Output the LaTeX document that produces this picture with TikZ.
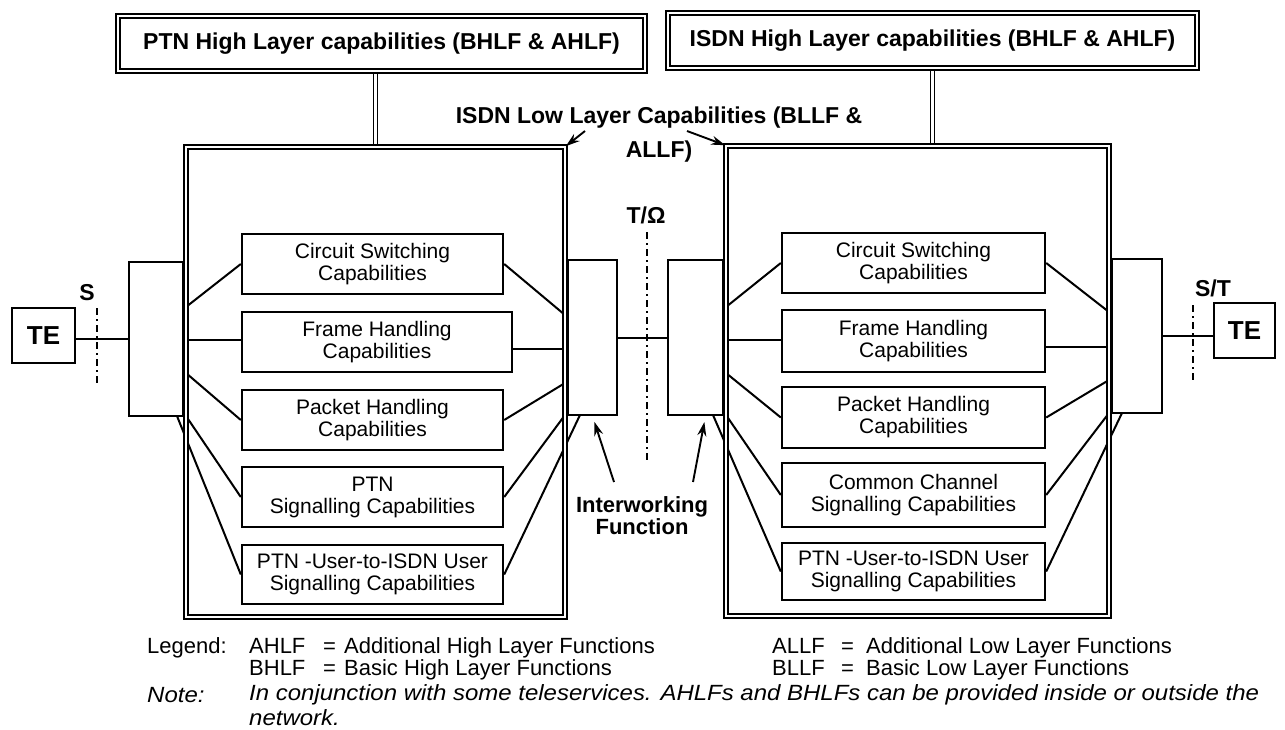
\documentclass[tikz,border=0pt]{standalone}
\usepackage{fontspec}
\setmainfont{Liberation Sans}
\newfontfamily\notefont[FakeStretch=1.09]{Liberation Sans}
\usetikzlibrary{arrows.meta}
\pgfdeclarelayer{bg}
\pgfsetlayers{bg,main}
\begin{document}
\begin{tikzpicture}[x=1pt,y=-1pt,
  box/.style={draw,line width=2.4pt,inner sep=0pt,align=center,font=\fontsize{21}{22}\selectfont},
  ifbox/.style={draw,line width=2.2pt,inner sep=0pt},
  tebox/.style={draw,line width=2.2pt,inner sep=0pt,font=\fontsize{26}{28}\selectfont\bfseries},
  dbl/.style={draw,double,double distance=2.6pt,line width=1.6pt},
  conn/.style={line width=2pt},
  lbl/.style={font=\fontsize{23}{26}\selectfont\bfseries,inner sep=0pt},
  dashdot/.style={line width=2.2pt,dash pattern=on 7pt off 4pt on 2pt off 4pt},
  arr/.style={line width=1.9pt,-{Stealth[length=14pt,width=9pt]}},
  leg/.style={anchor=west,inner sep=0pt,font=\fontsize{22}{24}\selectfont},
  note/.style={anchor=west,inner sep=0pt,font=\fontsize{22}{24}\notefont\itshape}]
\useasboundingbox (0,0) rectangle (1285,729);

% top boxes
\node[dbl,lbl,minimum width=527pt,minimum height=55pt] (tb1) at (381.5,43.5) {PTN High Layer capabilities (BHLF \& AHLF)};
\node[dbl,lbl,minimum width=529pt,minimum height=55pt] (tb2) at (932.5,40.5) {ISDN High Layer capabilities (BHLF \& AHLF)};

% big boxes
\node[dbl,inner sep=0pt,minimum width=379pt,minimum height=470pt] (bb1) at (375.5,382) {};
\node[dbl,inner sep=0pt,minimum width=383pt,minimum height=470pt] (bb2) at (917.5,381) {};

\begin{pgfonlayer}{bg}
\draw[dbl] (tb1.south -| bb1.north) -- (bb1.north);
\draw[dbl] (tb2.south) -- (tb2.south |- bb2.north);
\end{pgfonlayer}

% TE boxes
\node[tebox,minimum width=63pt,minimum height=55pt] (te1) at (43.5,335.5) {TE};
\node[tebox,minimum width=61pt,minimum height=55pt] (te2) at (1244.5,330.5) {TE};

% interface boxes
\node[ifbox,minimum width=54pt,minimum height=154pt] (if1) at (156,339) {};
\node[ifbox,minimum width=49pt,minimum height=155pt] (if2) at (592.5,337.5) {};
\node[ifbox,minimum width=55pt,minimum height=155pt] (if3) at (695.5,337.5) {};
\node[ifbox,minimum width=50pt,minimum height=154pt] (if4) at (1137,336) {};

% inner boxes left
\node[box,minimum width=261pt,minimum height=60pt] (cs1) at (372.5,264) {Circuit Switching\\Capabilities};
\node[box,minimum width=270pt,minimum height=60pt] (fh1) at (377,342) {Frame Handling\\Capabilities};
\node[box,minimum width=261pt,minimum height=60pt] (ph1) at (372.5,420) {Packet Handling\\Capabilities};
\node[box,minimum width=261pt,minimum height=60pt] (ps1) at (372.5,497) {PTN\\Signalling Capabilities};
\node[box,minimum width=261pt,minimum height=59pt] (pu1) at (372.5,574.5) {PTN -User-to-ISDN User\\Signalling Capabilities};

% inner boxes right
\node[box,minimum width=263pt,minimum height=60pt] (cs2) at (913.5,263) {Circuit Switching\\Capabilities};
\node[box,minimum width=263pt,minimum height=62pt] (fh2) at (913.5,341) {Frame Handling\\Capabilities};
\node[box,minimum width=263pt,minimum height=61pt] (ph2) at (913.5,417.5) {Packet Handling\\Capabilities};
\node[box,minimum width=263pt,minimum height=64pt] (cc2) at (913.5,495) {Common Channel\\Signalling Capabilities};
\node[box,minimum width=263pt,minimum height=57pt] (pu2) at (913.5,571.5) {PTN -User-to-ISDN User\\Signalling Capabilities};

% connection points on big box borders
\coordinate (L1) at (186,307); \coordinate (L2) at (186,340); \coordinate (L3) at (186,373);
\coordinate (L4) at (186,416); \coordinate (L5) at (177,416);
\coordinate (R1) at (565,315); \coordinate (R2) at (565,349); \coordinate (R3) at (565,383);
\coordinate (R4) at (565,415); \coordinate (R5) at (580,415);
\coordinate (M1) at (726,307); \coordinate (M2) at (726,340); \coordinate (M3) at (726,373);
\coordinate (M4) at (726,415); \coordinate (M5) at (713,415);
\coordinate (N1) at (1109,312); \coordinate (N2) at (1109,347); \coordinate (N3) at (1109,380);
\coordinate (N4) at (1109,413); \coordinate (N5) at (1122,413);

\begin{pgfonlayer}{bg}
\draw[conn] (L1) -- (cs1.west);
\draw[conn] (L2) -- (L2 -| fh1.west);
\draw[conn] (L3) -- (ph1.west);
\draw[conn] (L4) -- (ps1.west);
\draw[conn] (L5) -- (pu1.west);
\draw[conn] (cs1.east) -- (R1);
\draw[conn] (fh1.east |- R2) -- (R2);
\draw[conn] (ph1.east) -- (R3);
\draw[conn] (ps1.east) -- (R4);
\draw[conn] (pu1.east) -- (R5);
\draw[conn] (M1) -- (cs2.west);
\draw[conn] (M2) -- (M2 -| fh2.west);
\draw[conn] (M3) -- (ph2.west);
\draw[conn] (M4) -- (cc2.west);
\draw[conn] (M5) -- (pu2.west);
\draw[conn] (cs2.east) -- (N1);
\draw[conn] (fh2.east |- N2) -- (N2);
\draw[conn] (ph2.east) -- (N3);
\draw[conn] (cc2.east) -- (N4);
\draw[conn] (pu2.east) -- (N5);
\end{pgfonlayer}

% TE and interworking links
\draw[conn] (te1.east |- if1.west) -- (if1.west);
\draw[conn] (if2.east) -- (if3.west |- if2.east);
\draw[conn] (if4.east) -- (te2.west |- if4.east);

% reference point lines
\coordinate (s1) at (97,308); \coordinate (s2) at (97,385);
\coordinate (t1) at (647,232); \coordinate (t2) at (647,460);
\coordinate (u1) at (1193,305); \coordinate (u2) at (1193,380);
\draw[dashdot] (s1) -- (s2);
\draw[dashdot] (t1) -- (t2);
\draw[dashdot] (u1) -- (u2);
\node[lbl] (sl) at (87,293) {S};
\node[lbl] (tl) at (646,215) {T/Ω};
\node[lbl] (ul) at (1213,288) {S/T};

% low layer label and arrows
\node[lbl,align=center] (ll) at (659,135) {ISDN Low Layer Capabilities (BLLF \&\\[8pt]ALLF)};
\coordinate (a1) at (585,131);
\coordinate (a2) at (687,131);
\draw[arr] (a1) -- (bb1.north east);
\draw[arr] (a2) -- (bb2.north west);

% interworking function
\node[lbl,align=center,font=\fontsize{22}{22}\selectfont\bfseries] (iw) at (642,516) {Interworking\\Function};
\coordinate (w1) at (614,482);
\coordinate (w2) at (693,482);
\draw[arr,shorten >=6pt] (w1) -- (if2.south);
\draw[arr,shorten >=6pt] (w2) -- ([xshift=10pt]if3.south);

% legend
\node[leg] (lg) at (147,648) {Legend:};
\node[leg] (lg1) at (249,648) {\makebox[74pt][l]{AHLF}\makebox[21pt][l]{=}Additional High Layer Functions};
\node[leg] (lg2) at (249,670) {\makebox[74pt][l]{BHLF}\makebox[21pt][l]{=}Basic High Layer Functions};
\node[leg] (lg3) at (772,648) {\makebox[69pt][l]{ALLF}\makebox[25pt][l]{=}Additional Low Layer Functions};
\node[leg] (lg4) at (772,670) {\makebox[69pt][l]{BLLF}\makebox[25pt][l]{=}Basic Low Layer Functions};
\node[note] (nt) at (147,695) {Note:};
\node[note] (nt1) at (249,695) {In conjunction with some teleservices. AHLFs and BHLFs can be provided inside or outside the};
\node[note] (nt2) at (249,718) {network.};
\end{tikzpicture}
\end{document}
